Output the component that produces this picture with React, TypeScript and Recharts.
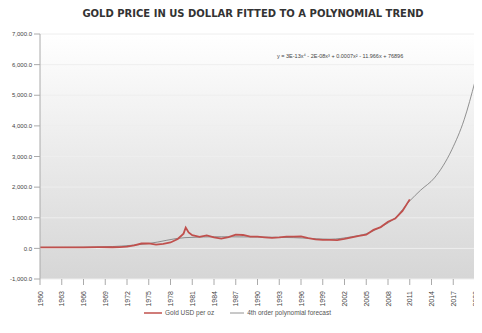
import React from "react";
import { LineChart, Line, XAxis, YAxis, CartesianGrid, Legend } from "recharts";

const goldYears = [1960, 1963, 1966, 1968, 1970, 1971, 1972, 1973, 1974, 1975, 1976, 1977, 1978, 1979, 1979.8, 1980.1, 1980.5, 1981, 1982, 1983, 1984, 1985, 1986, 1987, 1988, 1989, 1990, 1991, 1992, 1993, 1994, 1995, 1996, 1997, 1998, 1999, 2000, 2001, 2002, 2003, 2004, 2005, 2006, 2007, 2008, 2009, 2010, 2011];
const goldPrices = [35, 35, 35, 39, 36, 41, 58, 97, 159, 161, 125, 148, 193, 306, 480, 680, 520, 430, 376, 424, 360, 317, 368, 447, 437, 381, 383, 362, 344, 360, 384, 384, 388, 331, 294, 279, 279, 271, 310, 363, 409, 445, 604, 695, 872, 972, 1225, 1600];

const trendYears = [1960, 1965, 1970, 1975, 1980, 1985, 1990, 1995, 2000, 2003, 2005, 2007, 2009, 2011, 2012.5, 2014.4, 2016.8, 2018.5, 2020];
const trendValues = [30, 35, 60, 160, 350, 380, 370, 350, 300, 380, 480, 700, 1000, 1550, 1900, 2300, 3220, 4200, 5450];

const yTicks = [-1000, 0, 1000, 2000, 3000, 4000, 5000, 6000, 7000];
const xTicks = [1960, 1963, 1966, 1969, 1972, 1975, 1978, 1981, 1984, 1987, 1990, 1993, 1996, 1999, 2002, 2005, 2008, 2011, 2014, 2017, 2020];

const titleText = "GOLD PRICE IN US DOLLAR FITTED TO A POLYNOMIAL TREND";
const equationText = "y = 3E-13x\u2074 - 2E-08x\u00B3 + 0.0007x\u00B2 - 11.966x + 76896";
const goldName = "Gold USD per oz";
const trendName = "4th order polynomial forecast";

const goldData = goldYears.map((year, i) => ({ year, gold: goldPrices[i] }));
const trendData = trendYears.map((year, i) => ({ year, trend: trendValues[i] }));

const fmtY = (v: number) => (v === 0 ? "0.0" : v.toLocaleString("en-US", { minimumFractionDigits: 1, maximumFractionDigits: 1 }));

const FONT = "Liberation Sans, Arial, sans-serif";

const XTick = (props: any) => {
  const { x, y, payload } = props;
  return (
    <text x={x} y={y + 4} transform={`rotate(-90 ${x} ${y + 4})`} textAnchor="end" dominantBaseline="central" fontSize={7} fill="#444" fontFamily={FONT}>
      {String(payload.value)}
    </text>
  );
};

const LegendContent = () => (
  <div style={{ display: "flex", justifyContent: "center", alignItems: "center", fontSize: 6.5, color: "#555", fontFamily: FONT, gap: 16 }}>
    <div style={{ display: "flex", alignItems: "center" }}>
      <svg width={18} height={4}><line x1={0} y1={2} x2={18} y2={2} stroke="#c0504d" strokeWidth={1.5} /></svg>
      <span style={{ marginLeft: 3 }}>{goldName}</span>
    </div>
    <div style={{ display: "flex", alignItems: "center" }}>
      <svg width={14} height={4}><line x1={0} y1={2} x2={14} y2={2} stroke="#777" strokeWidth={0.8} /></svg>
      <span style={{ marginLeft: 3 }}>{trendName}</span>
    </div>
  </div>
);

export default function App() {
  return (
    <div style={{ position: "relative", width: 482, height: 333, margin: "-8px 0 0 -8px", background: "#fff" }}>
      <div style={{ position: "absolute", top: 8, left: 0, width: 482, textAlign: "center", fontFamily: "DejaVu Sans, sans-serif", fontWeight: "bold", fontSize: 10, color: "#333", paddingLeft: 24, boxSizing: "border-box", whiteSpace: "nowrap" }}>
        {titleText}
      </div>
      <LineChart width={482} height={333} margin={{ top: 34, right: 7, left: 0, bottom: 8 }}>
        <defs>
          <linearGradient id="plotBg" x1="0" y1="0" x2="0" y2="1">
            <stop offset="0%" stopColor="#ffffff" />
            <stop offset="100%" stopColor="#d6d6d6" />
          </linearGradient>
        </defs>
        <CartesianGrid vertical={false} stroke="#eeeeee" strokeWidth={1} fill="url(#plotBg)" />
        <XAxis dataKey="year" type="number" domain={[1960, 2020]} ticks={xTicks} interval={0} allowDuplicatedCategory={false} tick={<XTick />} tickLine={{ stroke: "#aaa" }} axisLine={false} height={30} />
        <YAxis type="number" domain={[-1000, 7000]} ticks={yTicks} tickFormatter={fmtY} width={40} tick={{ fontSize: 6, fill: "#444", fontFamily: FONT }} tickLine={{ stroke: "#aaa" }} axisLine={{ stroke: "#aaa" }} />
        <Legend verticalAlign="bottom" height={16} content={<LegendContent />} />
        <Line data={trendData} dataKey="trend" type="monotone" stroke="#777" strokeWidth={0.8} dot={false} isAnimationActive={false} />
        <Line data={goldData} dataKey="gold" type="linear" stroke="#c0504d" strokeWidth={1.8} dot={false} isAnimationActive={false} />
      </LineChart>
      <div style={{ position: "absolute", top: 53, left: 277, fontFamily: FONT, fontSize: 5.5, color: "#444", whiteSpace: "nowrap" }}>
        {equationText}
      </div>
    </div>
  );
}
